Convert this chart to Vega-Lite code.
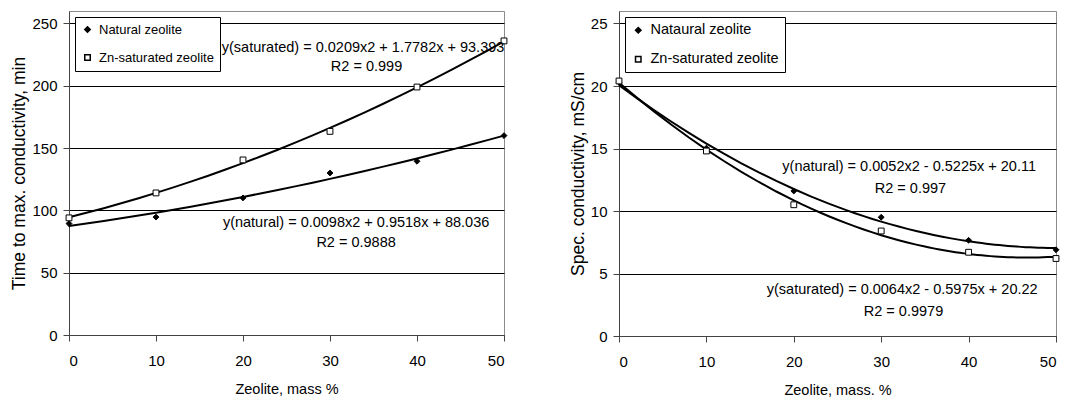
{
  "$schema": "https://vega.github.io/schema/vega-lite/v6.json",
  "padding": {"top": 10, "left": 10, "right": 5, "bottom": 2},
  "background": "white",
  "config": {
    "font": "Liberation Sans",
    "view": {"stroke": "#8c8c8c", "strokeWidth": 1},
    "axis": {
      "labelFont": "Liberation Sans", "titleFont": "Liberation Sans",
      "labelFontSize": 15, "titleFontWeight": "normal",
      "labelColor": "black", "titleColor": "black",
      "domainColor": "#444444", "tickColor": "#444444", "tickSize": 6,
      "gridColor": "black", "gridOpacity": 1, "gridWidth": 1
    },
    "axisX": {"labelPadding": 12, "titlePadding": 14, "titleFontSize": 14.5},
    "axisY": {"labelPadding": 6, "titlePadding": 3, "titleFontSize": 17.5},
    "legend": {
      "labelFont": "Liberation Sans", "labelColor": "black",
      "strokeColor": "black", "fillColor": "white", "padding": 6, "rowPadding": 14,
      "labelOffset": 5, "symbolSize": 30,
      "orient": "top-left", "offset": 6, "cornerRadius": 0
    }
  },
  "datasets": {
    "left": [
      {"x": 0, "y": 89.4, "series": "Natural zeolite"},
      {"x": 10, "y": 94.6, "series": "Natural zeolite"},
      {"x": 20, "y": 110, "series": "Natural zeolite"},
      {"x": 30, "y": 130, "series": "Natural zeolite"},
      {"x": 40, "y": 139.4, "series": "Natural zeolite"},
      {"x": 50, "y": 160, "series": "Natural zeolite"},
      {"x": 0, "y": 94, "series": "Zn-saturated zeolite"},
      {"x": 10, "y": 114, "series": "Zn-saturated zeolite"},
      {"x": 20, "y": 140.5, "series": "Zn-saturated zeolite"},
      {"x": 30, "y": 163.4, "series": "Zn-saturated zeolite"},
      {"x": 40, "y": 199, "series": "Zn-saturated zeolite"},
      {"x": 50, "y": 236, "series": "Zn-saturated zeolite"}
    ],
    "leftNotes": [
      {"x": 33.8, "y": 230, "text": "y(saturated) = 0.0209x2 + 1.7782x + 93.393"},
      {"x": 34.2, "y": 215, "text": "R2 = 0.999"},
      {"x": 33, "y": 90, "text": "y(natural) = 0.0098x2 + 0.9518x + 88.036"},
      {"x": 33, "y": 74, "text": "R2 = 0.9888"}
    ],
    "right": [
      {"x": 0, "y": 20.3, "series": "Nataural zeolite"},
      {"x": 10, "y": 15.03, "series": "Nataural zeolite"},
      {"x": 20, "y": 11.6, "series": "Nataural zeolite"},
      {"x": 30, "y": 9.5, "series": "Nataural zeolite"},
      {"x": 40, "y": 7.66, "series": "Nataural zeolite"},
      {"x": 50, "y": 6.9, "series": "Nataural zeolite"},
      {"x": 0, "y": 20.4, "series": "Zn-saturated zeolite"},
      {"x": 10, "y": 14.8, "series": "Zn-saturated zeolite"},
      {"x": 20, "y": 10.5, "series": "Zn-saturated zeolite"},
      {"x": 30, "y": 8.4, "series": "Zn-saturated zeolite"},
      {"x": 40, "y": 6.7, "series": "Zn-saturated zeolite"},
      {"x": 50, "y": 6.2, "series": "Zn-saturated zeolite"}
    ],
    "rightNotes": [
      {"x": 33.2, "y": 13.5, "text": "y(natural) = 0.0052x2 - 0.5225x + 20.11"},
      {"x": 33.35, "y": 11.8, "text": "R2 = 0.997"},
      {"x": 32.4, "y": 3.65, "text": "y(saturated) = 0.0064x2 - 0.5975x + 20.22"},
      {"x": 32.55, "y": 1.96, "text": "R2 = 0.9979"}
    ]
  },
  "resolve": {
    "scale": {"shape": "independent", "fill": "independent", "x": "independent", "y": "independent"},
    "legend": {"shape": "independent", "fill": "independent"}
  },
  "spacing": 58,
  "hconcat": [
    {
      "width": 435, "height": 324,
      "layer": [
        {
          "data": {"name": "left"},
          "transform": [{"regression": "y", "on": "x", "groupby": ["series"], "method": "poly", "order": 2, "extent": [0, 50]}],
          "mark": {"type": "line", "color": "black", "strokeWidth": 2},
          "encoding": {
            "x": {"field": "x", "type": "quantitative"},
            "y": {"field": "y", "type": "quantitative"},
            "detail": {"field": "series"}
          }
        },
        {
          "data": {"name": "left"},
          "mark": {"type": "point", "filled": false, "stroke": "black", "strokeWidth": 1, "size": 34, "opacity": 1},
          "encoding": {
            "x": {"field": "x", "type": "quantitative", "scale": {"domain": [0, 50]},
                  "axis": {"title": "Zeolite, mass %", "values": [0, 10, 20, 30, 40, 50], "grid": false}},
            "y": {"field": "y", "type": "quantitative", "scale": {"domain": [0, 250]},
                  "axis": {"title": "Time to max. conductivity, min", "values": [0, 50, 100, 150, 200, 250], "grid": true}},
            "shape": {"field": "series", "type": "nominal", "title": null,
                      "scale": {"domain": ["Natural zeolite", "Zn-saturated zeolite"], "range": ["diamond", "square"]},
                      "legend": {"labelFontSize": 13, "encode": {"symbols": {"update": {"stroke": {"value": "black"}, "strokeWidth": {"value": 1}}}}}},
            "fill": {"field": "series", "type": "nominal", "title": null,
                     "scale": {"domain": ["Natural zeolite", "Zn-saturated zeolite"], "range": ["black", "white"]},
                     "legend": {"labelFontSize": 13, "encode": {"symbols": {"update": {"stroke": {"value": "black"}, "strokeWidth": {"value": 1}}}}}}
          }
        },
        {
          "data": {"name": "leftNotes"},
          "mark": {"type": "text", "fontSize": 14.5, "color": "black", "align": "center", "baseline": "middle", "font": "Liberation Sans"},
          "encoding": {
            "x": {"field": "x", "type": "quantitative"},
            "y": {"field": "y", "type": "quantitative"},
            "text": {"field": "text"}
          }
        }
      ]
    },
    {
      "width": 437, "height": 325,
      "layer": [
        {
          "data": {"name": "right"},
          "transform": [{"regression": "y", "on": "x", "groupby": ["series"], "method": "poly", "order": 2, "extent": [0, 50]}],
          "mark": {"type": "line", "color": "black", "strokeWidth": 2},
          "encoding": {
            "x": {"field": "x", "type": "quantitative"},
            "y": {"field": "y", "type": "quantitative"},
            "detail": {"field": "series"}
          }
        },
        {
          "data": {"name": "right"},
          "mark": {"type": "point", "filled": false, "stroke": "black", "strokeWidth": 1, "size": 34, "opacity": 1},
          "encoding": {
            "x": {"field": "x", "type": "quantitative", "scale": {"domain": [0, 50]},
                  "axis": {"title": "Zeolite, mass. %", "values": [0, 10, 20, 30, 40, 50], "grid": false}},
            "y": {"field": "y", "type": "quantitative", "scale": {"domain": [0, 25]},
                  "axis": {"title": "Spec. conductivity, mS/cm", "values": [0, 5, 10, 15, 20, 25], "grid": true}},
            "shape": {"field": "series", "type": "nominal", "title": null,
                      "scale": {"domain": ["Nataural zeolite", "Zn-saturated zeolite"], "range": ["diamond", "square"]},
                      "legend": {"labelFontSize": 14.5, "encode": {"symbols": {"update": {"stroke": {"value": "black"}, "strokeWidth": {"value": 1}}}}}},
            "fill": {"field": "series", "type": "nominal", "title": null,
                     "scale": {"domain": ["Nataural zeolite", "Zn-saturated zeolite"], "range": ["black", "white"]},
                     "legend": {"labelFontSize": 14.5, "encode": {"symbols": {"update": {"stroke": {"value": "black"}, "strokeWidth": {"value": 1}}}}}}
          }
        },
        {
          "data": {"name": "rightNotes"},
          "mark": {"type": "text", "fontSize": 14.5, "color": "black", "align": "center", "baseline": "middle", "font": "Liberation Sans"},
          "encoding": {
            "x": {"field": "x", "type": "quantitative"},
            "y": {"field": "y", "type": "quantitative"},
            "text": {"field": "text"}
          }
        }
      ]
    }
  ]
}
